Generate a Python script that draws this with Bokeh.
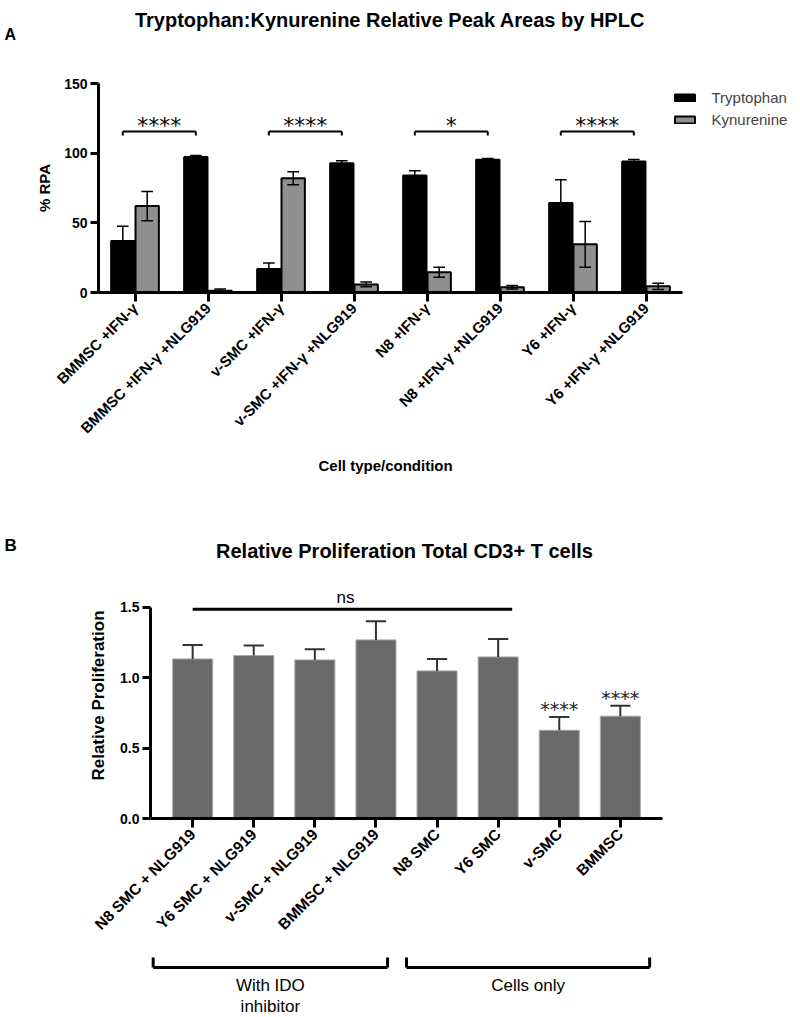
import math
from bokeh.plotting import figure
from bokeh.models import (ColumnDataSource, FactorRange, Range1d, FixedTicker,
                          Legend, LegendItem, NumeralTickFormatter, Title)
from bokeh.transform import dodge
from bokeh.embed import file_html
from bokeh.resources import INLINE
from bokeh.core.properties import value

# ---------------- data: panel A ----------------
conditions = ["BMMSC +IFN-γ", "BMMSC +IFN-γ +NLG919", "v-SMC +IFN-γ",
              "v-SMC +IFN-γ +NLG919", "N8 +IFN-γ", "N8 +IFN-γ +NLG919",
              "Y6 +IFN-γ", "Y6 +IFN-γ +NLG919"]
trp_mean = [37.0, 97.2, 16.8, 92.8, 84.0, 95.3, 64.3, 94.0]
trp_err = [10.6, 1.2, 4.4, 1.7, 3.3, 0.8, 16.6, 1.5]
kyn_mean = [62.0, 1.2, 82.0, 5.8, 14.6, 3.8, 34.6, 4.4]
kyn_err = [10.5, 1.4, 4.6, 1.7, 3.6, 1.2, 16.4, 2.3]
sig_left = ["BMMSC +IFN-γ", "v-SMC +IFN-γ", "N8 +IFN-γ", "Y6 +IFN-γ"]
sig_right = ["BMMSC +IFN-γ +NLG919", "v-SMC +IFN-γ +NLG919",
             "N8 +IFN-γ +NLG919", "Y6 +IFN-γ +NLG919"]
sig_text_A = ["****", "****", "*", "****"]
sig_level_A = [115.6, 115.6, 115.6, 115.6]
yticks_A = [0, 50, 100, 150]
title_A = "Tryptophan:Kynurenine Relative Peak Areas by HPLC"
xlabel_A = "Cell type/condition"

# ---------------- data: panel B ----------------
groupsB = ["N8 SMC + NLG919", "Y6 SMC + NLG919", "v-SMC + NLG919",
           "BMMSC + NLG919", "N8 SMC", "Y6 SMC", "v-SMC", "BMMSC"]
prolif_mean = [1.132, 1.156, 1.125, 1.267, 1.047, 1.146, 0.626, 0.726]
prolif_err = [0.099, 0.071, 0.075, 0.132, 0.085, 0.128, 0.094, 0.074]
prolif_sig = ["", "", "", "", "", "", "****", "****"]
ns_from, ns_to, ns_level, ns_text = "N8 SMC + NLG919", "Y6 SMC", 1.484, "ns"
yticks_B = [0.0, 0.5, 1.0, 1.5]
title_B = "Relative Proliferation Total CD3+ T cells"
bracket_labels = ["With IDO\ninhibitor", "Cells only"]
bracket_first = ["N8 SMC + NLG919", "N8 SMC"]
bracket_last = ["BMMSC + NLG919", "BMMSC"]

FONT = "Liberation Sans"
W = 800


def clean(p):
    p.outline_line_color = None
    p.xgrid.visible = False
    p.ygrid.visible = False
    p.background_fill_color = "white"
    p.border_fill_color = "white"


def header(height, items):
    """A strip holding panel letter and panel title (pixel layout, top-down)."""
    h = figure(width=W, height=height, x_range=Range1d(0, W), y_range=Range1d(height, 0),
               output_backend="svg", toolbar_location=None,
               x_axis_location=None, y_axis_location=None,
               min_border_left=0, min_border_right=0, min_border_top=0,
               min_border_bottom=0)
    clean(h)
    for txt, x, y, align, size in items:
        h.text(x=[x], y=[y], text=[txt], text_align=align, text_baseline="alphabetic",
               text_font=value(FONT), text_font_style="bold", text_font_size=size,
               text_color="black")
    return h


def style_axes(p, tick_size, xlab_size):
    for ax in (p.xaxis[0], p.yaxis[0]):
        ax.axis_line_width = 3
        ax.axis_line_color = "black"
        ax.major_tick_line_width = 3
        ax.major_tick_line_color = "black"
        ax.major_tick_in = 0
        ax.major_tick_out = 8
        ax.minor_tick_line_color = None
        ax.major_label_text_font = FONT
        ax.major_label_text_font_style = "bold"
        ax.major_label_text_color = "black"
        ax.axis_label_text_font = FONT
        ax.axis_label_text_font_style = "bold"
        ax.axis_label_text_color = "black"
    p.yaxis.major_label_text_font_size = tick_size
    p.xaxis.major_label_text_font_size = xlab_size
    p.xaxis.major_label_orientation = math.pi / 4
    p.xaxis.major_tick_out = 9
    p.yaxis.major_label_standoff = 3
    p.xaxis.major_label_standoff = 4


# ================= Header A =================
hdrA = header(46, [(title_A, 389.5, 19, "center", "20px"),
                   ("A", 4, 34, "left", "16px")])

# ================= Panel A =================
# categories sit at integer positions 0..7; the frame continues to the right
# (room for the legend) while the axis line stops after the last category.
nA = len(conditions)
posA = list(range(nA))
pA = figure(width=W, height=454, x_range=Range1d(-0.5, nA - 0.5 + 118 / 73),
            y_range=Range1d(0, 150), output_backend="svg", toolbar_location=None,
            min_border_left=98, min_border_right=0, min_border_top=37,
            min_border_bottom=208)
clean(pA)
style_axes(pA, "14px", "15px")
pA.xaxis.ticker = FixedTicker(ticks=posA)
pA.xaxis.major_label_overrides = {i: c for i, c in zip(posA, conditions)}
pA.xaxis.bounds = (-0.5, nA - 0.5)
pA.yaxis.ticker = FixedTicker(ticks=yticks_A)
pA.yaxis.bounds = (0, 150)
pA.yaxis.axis_label = "% RPA"
pA.yaxis.axis_label_text_font_size = "15px"
pA.yaxis.axis_label_standoff = 8
# x-axis title centred under the category span (not the wider frame)
pA.add_layout(Title(text=xlabel_A, align="left", offset=220, vertical_align="top",
                    standoff=22, text_font=FONT, text_font_style="bold",
                    text_font_size="15px", text_color="black"), "below")

TRP_OFF, KYN_OFF, BW, CAP = -0.167, 0.167, 0.32, 0.16
srcA = ColumnDataSource(dict(
    pos=posA, trp=trp_mean, kyn=kyn_mean,
    trp_lo=[m - e for m, e in zip(trp_mean, trp_err)],
    trp_hi=[m + e for m, e in zip(trp_mean, trp_err)],
    kyn_lo=[max(m - e, 0) for m, e in zip(kyn_mean, kyn_err)],
    kyn_hi=[m + e for m, e in zip(kyn_mean, kyn_err)],
))
trp_r = pA.vbar(x=dodge("pos", TRP_OFF), top="trp", width=BW, source=srcA,
                fill_color="black", line_color="black", line_width=2)
kyn_r = pA.vbar(x=dodge("pos", KYN_OFF), top="kyn", width=BW, source=srcA,
                fill_color="#8f8f8f", line_color="black", line_width=2)
for off, lo, hi in ((TRP_OFF, "trp_lo", "trp_hi"), (KYN_OFF, "kyn_lo", "kyn_hi")):
    pA.segment(x0=dodge("pos", off), x1=dodge("pos", off),
               y0=lo, y1=hi, source=srcA, line_color="black", line_width=1.5)
    for end in (lo, hi):
        pA.segment(x0=dodge("pos", off - CAP / 2), x1=dodge("pos", off + CAP / 2),
                   y0=end, y1=end, source=srcA, line_color="black", line_width=1.5)

srcS = ColumnDataSource(dict(l=[conditions.index(c) for c in sig_left],
                             r=[conditions.index(c) for c in sig_right],
                             y=sig_level_A,
                             ytick=[v - 2.9 for v in sig_level_A],
                             ytxt=[v + 4.5 for v in sig_level_A], t=sig_text_A))
pA.segment(x0=dodge("l", TRP_OFF), x1=dodge("r", TRP_OFF),
           y0="y", y1="y", source=srcS, line_color="black", line_width=2)
for col in ("l", "r"):
    pA.segment(x0=dodge(col, TRP_OFF), x1=dodge(col, TRP_OFF),
               y0="y", y1="ytick", source=srcS, line_color="black", line_width=2)
pA.text(x=dodge("l", TRP_OFF + 0.5), y="ytxt", text="t", source=srcS,
        text_align="center", text_baseline="alphabetic",
        text_font=value("DejaVu Sans"), text_font_size="22px", text_color="black")

legend = Legend(items=[LegendItem(label="Tryptophan", renderers=[trp_r]),
                       LegendItem(label="Kynurenine", renderers=[kyn_r])],
                location=(573.5, 162), orientation="vertical",
                border_line_color=None, background_fill_alpha=0,
                padding=0, margin=0, spacing=0, glyph_width=25, glyph_height=9,
                label_height=22, label_standoff=15,
                label_text_font=FONT, label_text_font_size="15px")
pA.add_layout(legend)

# ================= Header B =================
hdrB = header(60, [(title_B, 404, 50, "center", "20px"),
                   ("B", 4, 45, "left", "17px")])

# ================= Panel B =================
pB = figure(width=W, height=395,
            x_range=FactorRange(factors=groupsB, range_padding=0.0475),
            y_range=Range1d(0, 1.745), output_backend="svg", toolbar_location=None,
            min_border_left=150, min_border_right=138, min_border_top=12,
            min_border_bottom=137)
clean(pB)
style_axes(pB, "14px", "15.5px")
pB.yaxis.ticker = FixedTicker(ticks=yticks_B)
pB.yaxis.formatter = NumeralTickFormatter(format="0.0")
pB.yaxis.bounds = (0, 1.5)
pB.yaxis.axis_label = "Relative Proliferation"
pB.yaxis.axis_label_text_font_size = "17px"
pB.yaxis.axis_label_standoff = 9

srcB = ColumnDataSource(dict(
    grp=groupsB, mean=prolif_mean,
    hi=[m + e for m, e in zip(prolif_mean, prolif_err)],
    star_y=[m + e + 0.055 for m, e in zip(prolif_mean, prolif_err)],
    sig=prolif_sig))
xb = pB.x_range
pB.vbar(x="grp", top="mean", width=0.655, source=srcB,
        fill_color="#696969", line_color="#a8a8a8", line_width=1)
pB.segment(x0="grp", x1="grp", y0="mean", y1="hi", source=srcB,
           line_color="#333333", line_width=2)
pB.segment(x0=dodge("grp", -0.165, range=xb), x1=dodge("grp", 0.165, range=xb),
           y0="hi", y1="hi", source=srcB, line_color="#333333", line_width=2)
pB.text(x="grp", y="star_y", text="sig", source=srcB, text_align="center",
        text_baseline="alphabetic", text_font=value("DejaVu Sans"),
        text_font_size="19px", text_color="#222222")

srcNS = ColumnDataSource(dict(a=[ns_from], b=[ns_to], y=[ns_level],
                              mid=[groupsB[2]], ty=[ns_level + 0.081], t=[ns_text]))
pB.segment(x0="a", x1=dodge("b", 0.23, range=xb), y0="y", y1="y", source=srcNS,
           line_color="black", line_width=3)
pB.text(x=dodge("mid", 0.5, range=xb), y="ty", text="t", source=srcNS,
        text_align="center", text_baseline="alphabetic",
        text_font=value(FONT), text_font_size="17px", text_color="black")

# ================= Panel B group brackets =================
pC = figure(width=W, height=62, x_range=pB.x_range, y_range=Range1d(62, 0),
            output_backend="svg", toolbar_location=None,
            x_axis_location=None, y_axis_location=None,
            min_border_left=150, min_border_right=138, min_border_top=0,
            min_border_bottom=0)
clean(pC)
pad_left = [-0.646, -0.50]
pad_right = [0.19, 0.48]
bx0 = [groupsB.index(f) + 0.5 + pl for f, pl in zip(bracket_first, pad_left)]
bx1 = [groupsB.index(l) + 0.5 + pr for l, pr in zip(bracket_last, pad_right)]
srcC = ColumnDataSource(dict(x0=bx0, x1=bx1, xm=[(a + b) / 2 for a, b in zip(bx0, bx1)],
                             y=[12, 12], ytop=[2, 2], ty=[20, 20], t=bracket_labels))
pC.segment(x0="x0", x1="x1", y0="y", y1="y", source=srcC, line_color="black", line_width=3)
pC.segment(x0="x0", x1="x0", y0="y", y1="ytop", source=srcC, line_color="black", line_width=3)
pC.segment(x0="x1", x1="x1", y0="y", y1="ytop", source=srcC, line_color="black", line_width=3)
pC.text(x="xm", y="ty", text="t", source=srcC, text_align="center", text_baseline="top",
        text_font=value(FONT), text_font_size="17px", text_color="black",
        text_line_height=1.15)

open("out.html", "w").write(file_html([hdrA, pA, hdrB, pB, pC], INLINE))
